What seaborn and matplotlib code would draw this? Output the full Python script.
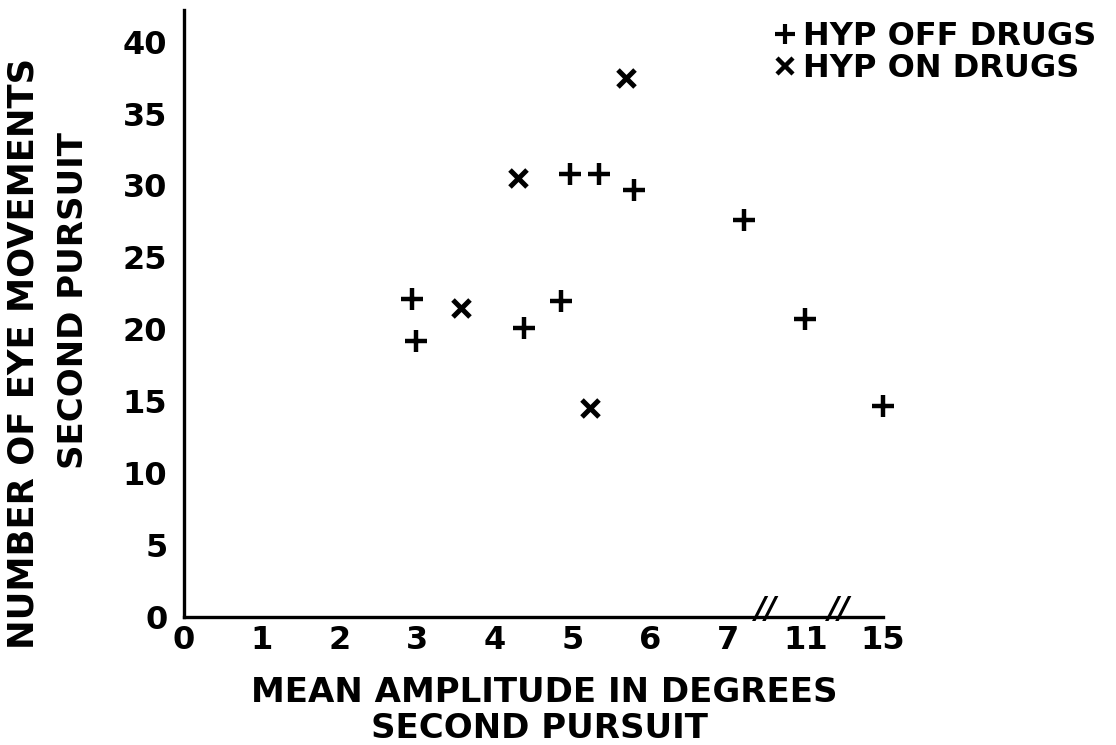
import numpy as np
import pandas as pd
import matplotlib.pyplot as plt
import seaborn as sns
from matplotlib.lines import Line2D

# valorile (amplitudine reala in grade, numar de miscari)
off_amp = [2.93, 2.99, 4.38, 4.85, 4.97, 5.34, 5.79, 7.21, 11.0, 15.0]
off_count = [22.1, 19.2, 20.1, 22.0, 30.8, 30.8, 29.7, 27.6, 20.7, 14.7]
on_amp = [3.56, 4.30, 5.23, 5.69]
on_count = [21.5, 30.5, 14.5, 37.5]

x_ticks = [0, 1, 2, 3, 4, 5, 6, 7, 11, 15]
y_ticks = [0, 5, 10, 15, 20, 25, 30, 35, 40]
group_labels = ['HYP OFF DRUGS', 'HYP ON DRUGS']

# axa x rupta: 0-7.5 liniar, apoi 11 si 15 comprimate
brk_real = [-100, 0, 7.5, 11, 15, 100]
brk_pos = [-100, 0, 7.5, 8, 9, 94]


def fwd(x):
    return np.interp(x, brk_real, brk_pos)


def inv(p):
    return np.interp(p, brk_pos, brk_real)


df = pd.DataFrame({
    'amp': off_amp + on_amp,
    'count': off_count + on_count,
    'group': [group_labels[0]] * len(off_amp) + [group_labels[1]] * len(on_amp),
})

sns.set_theme(style="white")
plt.rcParams['font.family'] = ['DejaVu Sans']
plt.rcParams['font.weight'] = 'bold'
plt.rcParams['text.color'] = 'black'

fig = plt.figure(figsize=(11.16, 7.45), dpi=100)
ax = fig.add_axes([0.1649, 0.1718, 0.6263, 0.8148])
ax.set_xscale('function', functions=(fwd, inv))

d_off = df[df['group'] == group_labels[0]]
d_on = df[df['group'] == group_labels[1]]
sns.scatterplot(data=d_off, x='amp', y='count', marker='+', s=260,
                color='black', linewidth=3.2, ax=ax, legend=False, clip_on=False)
sns.scatterplot(data=d_on, x='amp', y='count', marker='x', s=150,
                color='black', linewidth=3.6, ax=ax, legend=False, clip_on=False)

ax.set_xlim(0, 15)
ax.set_ylim(0, 42.2)
ax.set_xticks(x_ticks)
ax.set_xticklabels([str(t) for t in x_ticks])
ax.set_yticks(y_ticks)
ax.set_yticklabels([str(t) for t in y_ticks])
ax.tick_params(axis='both', length=0, labelsize=23, colors='black')
ax.tick_params(axis='x', pad=6)
ax.tick_params(axis='y', pad=12)
ax.set_xlabel('')
ax.set_ylabel('')

sns.despine(ax=ax)
for sp in ['left', 'bottom']:
    ax.spines[sp].set_linewidth(2.4)
    ax.spines[sp].set_color('black')

# semnele de intrerupere "//" pe axa x
for bx in [7.5, 12.76]:
    ax.text(bx, 0.012, '//', transform=ax.get_xaxis_transform(), ha='center',
            va='center', fontsize=22, fontweight='bold', color='black',
            fontstyle='italic')

# etichetele axelor (doua randuri, scris de mana)
fig.text(0.488, 0.071, 'MEAN AMPLITUDE IN DEGREES', ha='center', va='center',
         fontsize=24.5, color='black')
fig.text(0.483, 0.022, 'SECOND PURSUIT', ha='center', va='center',
         fontsize=24.5, color='black')
fig.text(0.021, 0.525, 'NUMBER OF EYE MOVEMENTS', ha='center', va='center',
         rotation=90, fontsize=25.5, color='black')
fig.text(0.066, 0.597, 'SECOND PURSUIT', ha='center', va='center',
         rotation=90, fontsize=24.5, color='black')

handles = [
    Line2D([], [], marker='+', linestyle='none', color='black', markersize=15,
           markeredgewidth=3),
    Line2D([], [], marker='x', linestyle='none', color='black', markersize=12,
           markeredgewidth=3.2),
]
leg = ax.legend(handles, group_labels, loc='upper left',
                bbox_to_anchor=(0.695, 0.972),
                bbox_transform=fig.transFigure, frameon=False, fontsize=23,
                handlelength=0.6, handletextpad=0.25, labelspacing=0.05,
                borderpad=0, borderaxespad=0)
for t in leg.get_texts():
    t.set_color('black')

fig.savefig('out.png', dpi=100)
